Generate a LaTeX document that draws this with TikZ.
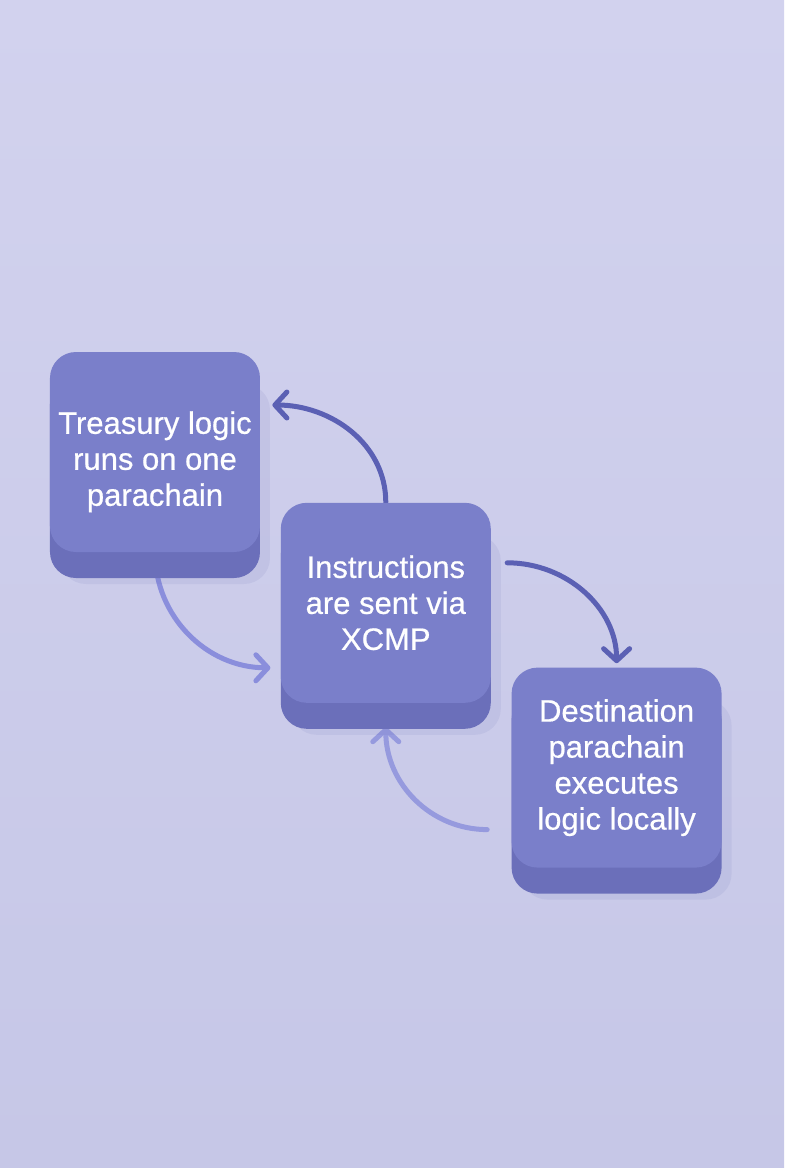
\documentclass[tikz,border=0pt]{standalone}
\usepackage{fontspec}
\setmainfont{Liberation Sans}
\newfontfamily\cardfont[FakeBold=0.6]{Liberation Sans}
\usepackage{tikz}
\usetikzlibrary{arrows.meta,positioning,shadows}
\definecolor{bgtop}{HTML}{D2D2EE}
\definecolor{bgbot}{HTML}{C6C7E7}
\definecolor{face}{HTML}{7A7FCA}
\definecolor{side}{HTML}{6B6FBA}
\definecolor{shade}{HTML}{5A5EA8}
\definecolor{darkflow}{HTML}{5B60B4}
\definecolor{lightflow}{HTML}{8A8EDC}
\pgfdeclarelayer{back}
\pgfdeclarelayer{wires}
\pgfsetlayers{back,wires,main}

\begin{document}
\begin{tikzpicture}[
  card/.style={fill=face, rounded corners=13pt, minimum width=105pt, minimum height=100pt,
               align=center, text=white, font=\cardfont\fontsize{15.5}{18}\selectfont,
               drop shadow={shadow xshift=5pt, shadow yshift=-16pt, opacity=.09, fill=shade},
               general shadow={fill=side, shadow yshift=-13pt}},
  flow/.style={line width=2.5pt, line cap=round,
               -{Straight Barb[length=6pt,width=13pt,line cap=round,line join=round]}}
]
\useasboundingbox (-77.5pt,-358pt) rectangle (314.5pt,226pt);
\begin{pgfonlayer}{back}
  \shade[top color=bgtop, bottom color=bgbot] (-77.5pt,-358pt) rectangle (314.5pt,226pt);
\end{pgfonlayer}

\node[card] (treas) at (0,0) {\rule{0pt}{21pt}Treasury logic\\runs on one\\parachain};
\node[card, below right=-25pt and 10pt of treas] (instr) {Instructions\\are sent via\\XCMP};
\node[card, below right=-18pt and 10pt of instr] (dest) {Destination\\parachain\\executes\\logic locally};

\coordinate[above right=23.5pt and 6pt of treas.east] (treas-in);
\coordinate[below left=32.5pt and 5pt of instr.west] (instr-in);
\coordinate[above right=20pt and 8pt of instr.east] (instr-out);
\coordinate[below=12pt of instr.south] (instr-back);
\coordinate[below left=31pt and 12pt of dest.west] (dest-out);

\begin{pgfonlayer}{wires}
\draw[flow, darkflow] (instr.north) to[out=90,in=0] (treas-in);
\draw[flow, lightflow] (treas.south) to[out=-90,in=180] (instr-in);
\draw[flow, darkflow, shorten >=2pt] (instr-out) to[out=0,in=90] (dest.north);
\draw[flow, lightflow!80!bgbot] (dest-out) to[out=180,in=-90] (instr-back);
\end{pgfonlayer}
\end{tikzpicture}
\end{document}
